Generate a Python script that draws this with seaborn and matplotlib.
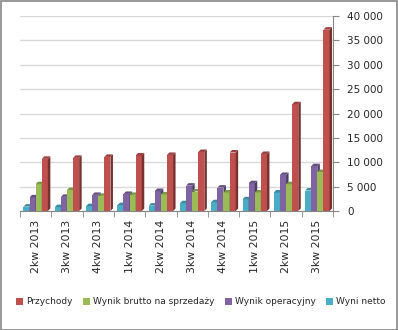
import matplotlib
matplotlib.use("Agg")
import matplotlib.pyplot as plt
import matplotlib.patches as mpatches
import matplotlib.ticker as mticker
from matplotlib.colors import to_rgb
import numpy as np
import pandas as pd
import seaborn as sns

categories = ["2kw 2013", "3kw 2013", "4kw 2013", "1kw 2014", "2kw 2014",
              "3kw 2014", "4kw 2014", "1kw 2015", "2kw 2015", "3kw 2015"]
przychody = [10700, 10900, 11100, 11400, 11500, 12100, 12000, 11700, 21900, 37200]
brutto = [5500, 4300, 3100, 3300, 3400, 4000, 3800, 3800, 5500, 8000]
operacyjny = [2800, 2900, 3300, 3500, 4100, 5200, 4800, 5700, 7400, 9200]
netto = [900, 800, 1000, 1200, 1100, 1600, 1800, 2400, 3800, 4200]

series_names = ["Przychody", "Wynik brutto na sprzedaży", "Wynik operacyjny", "Wyni netto"]
series_values = [przychody, brutto, operacyjny, netto]
colors = {"Przychody": "#C0504D", "Wynik brutto na sprzedaży": "#9BBB59",
          "Wynik operacyjny": "#8064A2", "Wyni netto": "#4BACC6"}
plot_order = ["Wyni netto", "Wynik operacyjny", "Wynik brutto na sprzedaży", "Przychody"]

rows = []
for name, vals in zip(series_names, series_values):
    for c, v in zip(categories, vals):
        rows.append({"kw": c, "series": name, "value": v})
df = pd.DataFrame(rows)

sns.set_style("white")
plt.rcParams["font.family"] = ["DejaVu Sans"]

W, H = 398, 330
fig = plt.figure(figsize=(W / 100, H / 100), dpi=100)
ax = fig.add_axes([20 / W, 1 - 211 / H, (333 - 20) / W, (211 - 16) / H])

sns.barplot(data=df, x="kw", y="value", hue="series", hue_order=plot_order,
            order=categories, palette=colors, saturation=1, width=0.78,
            ax=ax, legend=False, errorbar=None)

ax.set_xlim(-0.5, len(categories) - 0.5)
ax.set_ylim(0, 40000)
fig.canvas.draw()

# 3D faces derived from the drawn bars
dx_px, dy_px = 2.5, 2.5
inv = ax.transData.inverted()
bars = [p for p in ax.patches if isinstance(p, mpatches.Rectangle)]
n_cat = len(categories)
for i, p in enumerate(bars):
    hue_idx = i // n_cat
    x0, w, h = p.get_x(), p.get_width(), p.get_height()
    base = np.array(to_rgb(p.get_facecolor()))
    p.set_zorder(3 + hue_idx)
    p.set_edgecolor("none")
    pts = ax.transData.transform([(x0, 0), (x0 + w, 0), (x0 + w, h), (x0, h)])
    bl, br, tr, tl = pts
    off = np.array([dx_px, dy_px])
    side = inv.transform([br, br + off, tr + off, tr])
    top = inv.transform([tl, tr, tr + off, tl + off])
    ax.add_patch(mpatches.Polygon(side, closed=True, facecolor=base * 0.62,
                                  edgecolor="none", zorder=3 + hue_idx))
    ax.add_patch(mpatches.Polygon(top, closed=True, facecolor=base * 0.8,
                                  edgecolor="none", zorder=3 + hue_idx))

# axes styling
for s in ["left", "top"]:
    ax.spines[s].set_visible(False)
ax.spines["right"].set_color("#868686")
ax.spines["bottom"].set_color("#868686")
ax.yaxis.tick_right()
ax.yaxis.set_major_locator(mticker.MultipleLocator(5000))
ax.yaxis.set_major_formatter(mticker.FuncFormatter(lambda v, p: f"{int(v):,}".replace(",", " ")))
ax.tick_params(axis="y", which="major", length=4, color="#868686", labelsize=7.5,
               pad=6, direction="out", right=True, left=False)
ax.grid(axis="y", color="#D9D9D9", linewidth=1, zorder=0)
ax.set_axisbelow(True)

ax.set_xticks(range(n_cat))
ax.set_xticklabels(categories, rotation=90, fontsize=7.8)
ax.set_xticks(np.arange(-0.5, n_cat, 1), minor=True)
ax.tick_params(axis="x", which="major", length=0, pad=6)
ax.tick_params(axis="x", which="minor", length=4, color="#868686", direction="out", bottom=True)
ax.set_xlabel("")
ax.set_ylabel("")

handles = [mpatches.Patch(facecolor=colors[n], edgecolor="none", label=n) for n in series_names]
fig.legend(handles=handles, loc="center", bbox_to_anchor=(0.505, 1 - 302 / H), ncol=4,
           frameon=False, fontsize=6.5, handlelength=0.75, handleheight=0.75,
           handletextpad=0.35, columnspacing=1.15)

fig.add_artist(mpatches.Rectangle((0.5 / W, 0.5 / H), 1 - 1.5 / W, 1 - 1.5 / H,
                                  transform=fig.transFigure, fill=False,
                                  edgecolor="#868686", linewidth=1.2))

fig.savefig("out.png", dpi=100)
